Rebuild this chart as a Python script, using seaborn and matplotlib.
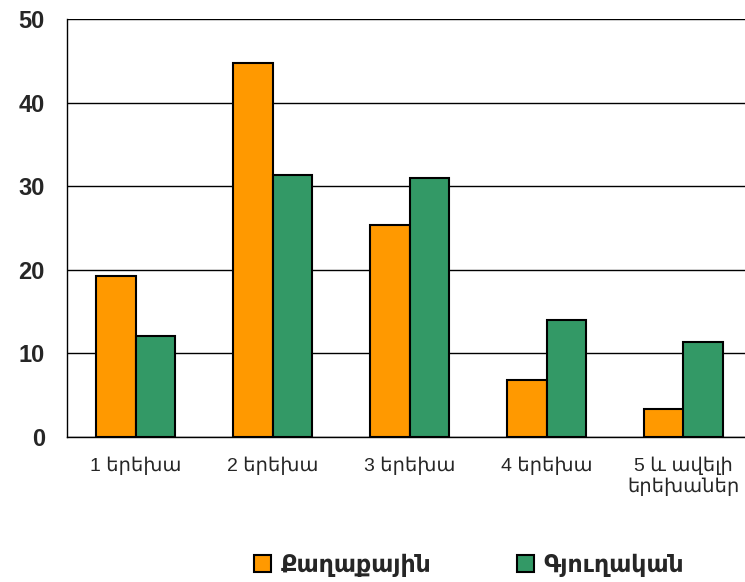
import pandas as pd
import matplotlib.pyplot as plt
import seaborn as sns

categories = ["1 երեխա", "2 երեխա", "3 երեխա", "4 երեխա", "5 և ավելի\nերեխաներ"]
series_names = ["Քաղաքային", "Գյուղական"]
urban = [19.3, 44.7, 25.3, 6.8, 3.3]
rural = [12.1, 31.3, 31.0, 14.0, 11.4]
y_ticks = [0, 10, 20, 30, 40, 50]

df = pd.DataFrame({
    "category": categories * 2,
    "value": urban + rural,
    "series": [series_names[0]] * len(categories) + [series_names[1]] * len(categories),
})

sns.set_style("white")
plt.rcParams["font.family"] = ["Liberation Sans", "DejaVu Sans"]

fig = plt.figure(figsize=(7.45, 5.82), dpi=100)
ax = fig.add_axes([67 / 745, 1 - 437 / 582, 685 / 745, 418 / 582])

sns.barplot(
    data=df,
    x="category",
    y="value",
    hue="series",
    palette=["#FF9900", "#339966"],
    saturation=1,
    width=0.58,
    edgecolor="black",
    linewidth=1.5,
    ax=ax,
    zorder=3,
)

ax.set_ylim(0, 50)
ax.set_xlim(-0.5, len(categories) - 0.5)
ax.set_yticks(y_ticks)
ax.set_yticklabels([str(t) for t in y_ticks], fontsize=17, fontweight="bold")
ax.yaxis.grid(True, color="black", linewidth=1)
ax.set_axisbelow(True)

ax.set_xticks(range(len(categories)))
ax.set_xticklabels(categories, fontsize=14)
ax.set_xticks([i - 0.5 for i in range(len(categories) + 1)], minor=True)
ax.tick_params(axis="x", which="major", length=0, pad=14)
ax.tick_params(axis="x", which="minor", length=6, width=1, direction="out", color="black")
ax.tick_params(axis="y", length=8, width=1, direction="out", color="black", pad=8)

ax.set_xlabel("")
ax.set_ylabel("")
for side in ["top", "right"]:
    ax.spines[side].set_visible(False)
for side in ["left", "bottom"]:
    ax.spines[side].set_color("black")
    ax.spines[side].set_linewidth(1)

handles, labels = ax.get_legend_handles_labels()
ax.legend_.remove()
fig.legend(
    handles,
    labels,
    loc="center",
    bbox_to_anchor=(469 / 745, 1 - 565 / 582),
    ncol=2,
    frameon=False,
    prop={"size": 17, "weight": "bold"},
    handlelength=0.75,
    handleheight=0.75,
    handletextpad=0.4,
    columnspacing=3.6,
)

fig.savefig("out.png", dpi=100)
